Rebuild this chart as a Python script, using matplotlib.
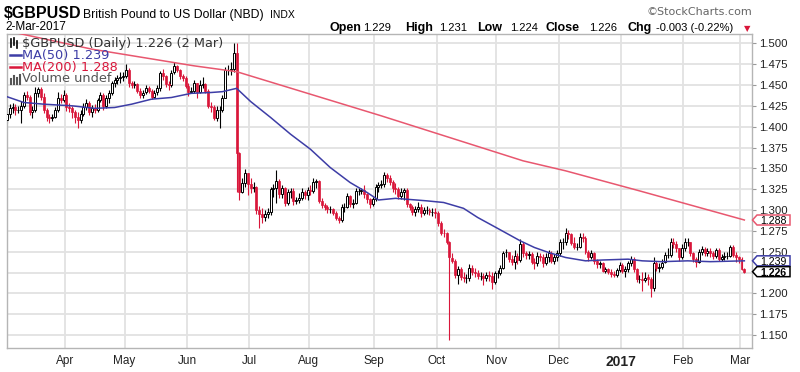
import numpy as np
import pandas as pd
import matplotlib
matplotlib.use('Agg')
import matplotlib.pyplot as plt
from matplotlib.patches import Polygon

# trading days shown on the chart
dates = pd.bdate_range('2016-03-03', '2017-03-02')

first_open = 1.408
closes = [
    1.415, 1.422,                          # Mar 3-4
    1.424, 1.420, 1.420, 1.425, 1.438,     # Mar 7-11
    1.436, 1.418, 1.420, 1.440, 1.445,     # Mar 14-18
    1.436, 1.420, 1.412, 1.410, 1.412,     # Mar 21-25
    1.420, 1.435, 1.432, 1.438, 1.424,     # Mar 28-Apr 1
    1.422, 1.418, 1.412, 1.408, 1.415,     # Apr 4-8
    1.424, 1.428, 1.418, 1.422, 1.420,     # Apr 11-15
    1.432, 1.438, 1.425, 1.434, 1.440,     # Apr 18-22
    1.452, 1.456, 1.458, 1.460, 1.461,     # Apr 25-29
    1.468, 1.452, 1.450, 1.451, 1.443,     # May 2-6
    1.438, 1.441, 1.446, 1.443, 1.436,     # May 9-13
    1.441, 1.446, 1.464, 1.461, 1.451,     # May 16-20
    1.450, 1.465, 1.473, 1.468, 1.461,     # May 23-27
    1.458, 1.449, 1.442, 1.443, 1.452,     # May 30-Jun 3
    1.441, 1.450, 1.451, 1.443, 1.425,     # Jun 6-10
    1.424, 1.411, 1.420, 1.420, 1.435,     # Jun 13-17
    1.468, 1.468, 1.469, 1.488, 1.368,     # Jun 20-24
    1.322, 1.333, 1.344, 1.331, 1.326,     # Jun 27-Jul 1
    1.328, 1.300, 1.295, 1.292, 1.295,     # Jul 4-8
    1.298, 1.325, 1.327, 1.335, 1.319,     # Jul 11-15
    1.326, 1.309, 1.322, 1.323, 1.311,     # Jul 18-22
    1.312, 1.315, 1.322, 1.318, 1.324,     # Jul 25-29
    1.323, 1.334, 1.335, 1.311, 1.306,     # Aug 1-5
    1.304, 1.301, 1.301, 1.297, 1.291,     # Aug 8-12
    1.288, 1.304, 1.304, 1.317, 1.307,     # Aug 15-19
    1.309, 1.323, 1.323, 1.324, 1.319,     # Aug 22-26
    1.313, 1.307, 1.313, 1.328, 1.330,     # Aug 29-Sep 2
    1.331, 1.342, 1.339, 1.334, 1.327,     # Sep 5-9
    1.325, 1.317, 1.322, 1.324, 1.307,     # Sep 12-16
    1.304, 1.298, 1.301, 1.304, 1.296,     # Sep 19-23
    1.300, 1.300, 1.298, 1.298, 1.297,     # Sep 26-30
    1.284, 1.273, 1.272, 1.262, 1.243,     # Oct 3-7
    1.239, 1.222, 1.229, 1.220, 1.218,     # Oct 10-14
    1.219, 1.231, 1.226, 1.224, 1.221,     # Oct 17-21
    1.221, 1.219, 1.222, 1.221, 1.214,     # Oct 24-28
    1.224, 1.225, 1.231, 1.249, 1.249,     # Oct 31-Nov 4
    1.241, 1.238, 1.245, 1.240, 1.259,     # Nov 7-11
    1.248, 1.246, 1.247, 1.238, 1.236,     # Nov 14-18
    1.245, 1.243, 1.236, 1.244, 1.248,     # Nov 21-25
    1.239, 1.244, 1.248, 1.262, 1.262,     # Nov 28-Dec 2
    1.273, 1.271, 1.261, 1.256, 1.256,     # Dec 5-9
    1.268, 1.266, 1.250, 1.244, 1.248,     # Dec 12-16
    1.239, 1.235, 1.236, 1.227, 1.229,     # Dec 19-23
    1.226, 1.223, 1.222, 1.228, 1.234,     # Dec 26-30
    1.227, 1.229, 1.236, 1.241, 1.229,     # Jan 2-6
    1.217, 1.217, 1.216, 1.219, 1.217,     # Jan 9-13
    1.206, 1.237, 1.231, 1.232, 1.237,     # Jan 16-20
    1.246, 1.246, 1.262, 1.259, 1.254,     # Jan 23-27
    1.243, 1.255, 1.262, 1.262, 1.248,     # Jan 30-Feb 3
    1.241, 1.237, 1.249, 1.253, 1.248,     # Feb 6-10
    1.251, 1.248, 1.245, 1.252, 1.241,     # Feb 13-17
    1.243, 1.245, 1.245, 1.256, 1.246,     # Feb 20-24
    1.243, 1.241, 1.229, 1.226,            # Feb 27-Mar 2
]

highs = [
    1.419, 1.427,
    1.428, 1.427, 1.425, 1.431, 1.442,
    1.443, 1.438, 1.425, 1.447, 1.448,
    1.447, 1.440, 1.423, 1.415, 1.415,
    1.424, 1.441, 1.439, 1.444, 1.440,
    1.428, 1.425, 1.420, 1.418, 1.420,
    1.428, 1.433, 1.431, 1.426, 1.427,
    1.435, 1.441, 1.440, 1.438, 1.444,
    1.455, 1.460, 1.462, 1.465, 1.466,
    1.475, 1.470, 1.455, 1.455, 1.452,
    1.446, 1.444, 1.450, 1.449, 1.445,
    1.444, 1.450, 1.467, 1.469, 1.462,
    1.455, 1.468, 1.477, 1.474, 1.469,
    1.463, 1.461, 1.452, 1.448, 1.456,
    1.452, 1.456, 1.459, 1.452, 1.445,
    1.430, 1.426, 1.425, 1.425, 1.438,
    1.472, 1.474, 1.478, 1.501, 1.501,
    1.370, 1.338, 1.349, 1.345, 1.338,
    1.334, 1.329, 1.305, 1.302, 1.300,
    1.303, 1.328, 1.331, 1.348, 1.337,
    1.330, 1.328, 1.325, 1.327, 1.326,
    1.316, 1.320, 1.326, 1.324, 1.328,
    1.330, 1.338, 1.337, 1.336, 1.314,
    1.309, 1.306, 1.305, 1.303, 1.299,
    1.293, 1.307, 1.308, 1.320, 1.318,
    1.313, 1.326, 1.327, 1.327, 1.330,
    1.320, 1.315, 1.316, 1.331, 1.334,
    1.336, 1.346, 1.345, 1.342, 1.336,
    1.332, 1.328, 1.326, 1.327, 1.326,
    1.309, 1.306, 1.305, 1.310, 1.307,
    1.304, 1.305, 1.303, 1.302, 1.302,
    1.299, 1.287, 1.277, 1.274, 1.263,
    1.248, 1.241, 1.233, 1.232, 1.226,
    1.223, 1.235, 1.234, 1.231, 1.228,
    1.226, 1.224, 1.226, 1.227, 1.225,
    1.227, 1.228, 1.234, 1.251, 1.253,
    1.249, 1.246, 1.252, 1.248, 1.265,
    1.262, 1.251, 1.251, 1.249, 1.242,
    1.249, 1.248, 1.247, 1.248, 1.252,
    1.251, 1.247, 1.252, 1.265, 1.266,
    1.278, 1.276, 1.273, 1.268, 1.260,
    1.272, 1.273, 1.269, 1.252, 1.252,
    1.249, 1.241, 1.239, 1.238, 1.232,
    1.231, 1.229, 1.227, 1.231, 1.237,
    1.236, 1.233, 1.239, 1.245, 1.243,
    1.230, 1.222, 1.225, 1.226, 1.223,
    1.219, 1.243, 1.239, 1.236, 1.241,
    1.249, 1.255, 1.266, 1.267, 1.263,
    1.255, 1.259, 1.266, 1.267, 1.262,
    1.250, 1.244, 1.253, 1.257, 1.256,
    1.254, 1.254, 1.251, 1.254, 1.254,
    1.247, 1.250, 1.249, 1.258, 1.258,
    1.249, 1.245, 1.243, 1.231,
]

lows = [
    1.405, 1.411,
    1.416, 1.414, 1.416, 1.405, 1.423,
    1.432, 1.414, 1.410, 1.418, 1.436,
    1.432, 1.417, 1.407, 1.405, 1.407,
    1.410, 1.418, 1.428, 1.430, 1.419,
    1.418, 1.410, 1.405, 1.399, 1.404,
    1.413, 1.420, 1.414, 1.412, 1.416,
    1.418, 1.430, 1.420, 1.422, 1.429,
    1.438, 1.448, 1.451, 1.452, 1.455,
    1.458, 1.448, 1.446, 1.446, 1.440,
    1.434, 1.435, 1.439, 1.440, 1.433,
    1.434, 1.438, 1.443, 1.456, 1.448,
    1.444, 1.447, 1.463, 1.465, 1.457,
    1.455, 1.446, 1.437, 1.440, 1.440,
    1.435, 1.440, 1.446, 1.440, 1.422,
    1.418, 1.408, 1.407, 1.399, 1.418,
    1.436, 1.462, 1.462, 1.466, 1.322,
    1.312, 1.320, 1.328, 1.318, 1.321,
    1.322, 1.295, 1.279, 1.285, 1.287,
    1.291, 1.294, 1.316, 1.308, 1.315,
    1.315, 1.305, 1.306, 1.315, 1.306,
    1.307, 1.309, 1.312, 1.313, 1.312,
    1.318, 1.320, 1.326, 1.308, 1.302,
    1.300, 1.296, 1.297, 1.294, 1.288,
    1.284, 1.286, 1.298, 1.302, 1.304,
    1.303, 1.307, 1.318, 1.319, 1.314,
    1.309, 1.303, 1.305, 1.311, 1.322,
    1.326, 1.328, 1.334, 1.330, 1.322,
    1.319, 1.313, 1.313, 1.312, 1.304,
    1.300, 1.294, 1.293, 1.298, 1.292,
    1.294, 1.295, 1.294, 1.293, 1.291,
    1.281, 1.270, 1.268, 1.259, 1.144,
    1.236, 1.218, 1.211, 1.216, 1.213,
    1.212, 1.215, 1.222, 1.220, 1.217,
    1.216, 1.210, 1.215, 1.215, 1.205,
    1.211, 1.218, 1.222, 1.229, 1.243,
    1.237, 1.234, 1.229, 1.235, 1.238,
    1.244, 1.241, 1.241, 1.235, 1.229,
    1.233, 1.239, 1.232, 1.234, 1.238,
    1.236, 1.235, 1.239, 1.245, 1.253,
    1.258, 1.265, 1.258, 1.253, 1.252,
    1.254, 1.262, 1.247, 1.239, 1.241,
    1.235, 1.231, 1.231, 1.225, 1.224,
    1.223, 1.220, 1.219, 1.220, 1.225,
    1.224, 1.220, 1.226, 1.233, 1.226,
    1.213, 1.212, 1.203, 1.213, 1.210,
    1.195, 1.203, 1.227, 1.226, 1.229,
    1.236, 1.242, 1.244, 1.254, 1.250,
    1.239, 1.241, 1.251, 1.257, 1.245,
    1.238, 1.232, 1.236, 1.246, 1.245,
    1.245, 1.243, 1.241, 1.242, 1.239,
    1.239, 1.240, 1.241, 1.243, 1.244,
    1.238, 1.236, 1.228, 1.224,
]

# moving averages
ma50_dates = ['2016-03-03', '2016-03-11', '2016-03-22', '2016-04-05', '2016-04-15',
              '2016-04-26', '2016-05-04', '2016-05-13', '2016-05-24', '2016-06-02',
              '2016-06-13', '2016-06-17', '2016-06-24', '2016-07-01', '2016-07-12',
              '2016-07-21', '2016-08-01', '2016-08-10', '2016-08-19', '2016-08-29',
              '2016-09-02', '2016-09-12', '2016-09-27', '2016-10-05', '2016-10-14',
              '2016-10-21', '2016-11-01', '2016-11-11', '2016-11-18', '2016-11-25',
              '2016-12-05', '2016-12-14', '2016-12-22', '2017-01-04', '2017-01-11',
              '2017-01-20', '2017-02-02', '2017-02-14', '2017-03-02']
ma50_values = [1.436, 1.429, 1.427, 1.425, 1.422,
               1.423, 1.427, 1.433, 1.435, 1.440,
               1.441, 1.442, 1.446, 1.430, 1.411,
               1.391, 1.373, 1.351, 1.333, 1.321,
               1.312, 1.314, 1.311, 1.309, 1.302,
               1.291, 1.278, 1.263, 1.255, 1.249,
               1.243, 1.239, 1.240, 1.241, 1.239,
               1.238, 1.239, 1.238, 1.239]

ma200_dates = ['2016-03-03', '2016-04-14', '2016-06-03', '2016-06-24', '2016-09-05',
               '2016-11-14', '2016-12-05', '2017-01-10', '2017-03-02']
ma200_values = [1.515, 1.493, 1.473, 1.466, 1.413, 1.359, 1.347, 1.323, 1.288]

month_names = ['Apr', 'May', 'Jun', 'Jul', 'Aug', 'Sep', 'Oct', 'Nov', 'Dec', '2017', 'Feb', 'Mar']
price_ticks = np.arange(1.150, 1.5001, 0.025)

last_open, last_high, last_low, last_close = 1.229, 1.231, 1.224, 1.226
last_ma50, last_ma200 = 1.239, 1.288

RED = '#d9163a'
BLUE = '#3d3da6'
PINK = '#e8576f'
GRID = '#e2e2e2'

o = np.array([first_open] + closes[:-1])  # FX bars open at the previous close
c = np.array(closes)
h = np.array(highs)
l = np.array(lows)
x = np.arange(len(dates))
up = c >= o

fig = plt.figure(figsize=(8, 3.72), dpi=100)
ax = fig.add_axes([7 / 800, 24 / 372, 745 / 800, 314 / 372])

# candles
ax.vlines(x[up], l[up], h[up], color='black', lw=0.8, zorder=2)
ax.vlines(x[~up], l[~up], h[~up], color=RED, lw=0.8, zorder=2)
ax.bar(x[up], c[up] - o[up], bottom=o[up], width=0.7,
       facecolor='white', edgecolor='black', linewidth=0.7, zorder=3)
ax.bar(x[~up], o[~up] - c[~up], bottom=c[~up], width=0.7,
       color=RED, edgecolor=RED, linewidth=0.5, zorder=3)

# moving averages
ax.plot(dates.get_indexer(pd.to_datetime(ma200_dates)), ma200_values, color=PINK, lw=1.1, zorder=4)
ax.plot(dates.get_indexer(pd.to_datetime(ma50_dates)), ma50_values, color=BLUE, lw=1.1, zorder=4)

# month gridlines sit between the last and first day of the month
month_pos = [i - 0.5 for i in range(1, len(dates)) if dates[i].month != dates[i - 1].month]

ax.set_xlim(0.05, 262.7)
ax.set_ylim(1.1344, 1.5112)
ax.set_yticks(price_ticks)
# the 1.225 label sits under the closing-price tag
ax.set_yticklabels(['' if abs(v - 1.225) < 1e-6 else '%.3f' % v for v in price_ticks])
ax.set_xticks(month_pos)
ax.set_xticklabels(month_names)
ax.yaxis.tick_right()
ax.grid(True, color=GRID, lw=1.3)
ax.set_axisbelow(True)
ax.tick_params(axis='y', length=3, color='#999999', pad=2, labelsize=8.2)
ax.tick_params(axis='x', length=0, pad=5, labelsize=8.5)
for lab in ax.get_yticklabels() + ax.get_xticklabels():
    lab.set_family('Liberation Sans')
    lab.set_color('#222222')
for lab in ax.get_xticklabels():
    if lab.get_text() == '2017':
        lab.set_fontweight('bold')
        lab.set_fontsize(10)
for s in ax.spines.values():
    s.set_color('#b5b5b5')
    s.set_linewidth(1)

# value tags on the right edge
ytr = ax.get_yaxis_transform()
pxw, pxh = 1 / 745, (1.5112 - 1.1344) / 314
for val, edge, weight in [(last_ma200, PINK, 'normal'), (last_ma50, BLUE, 'normal'),
                          (last_close, 'black', 'bold')]:
    poly = Polygon([(1 + 0.5 * pxw, val), (1 + 5 * pxw, val + 5 * pxh),
                    (1 + 38 * pxw, val + 5 * pxh), (1 + 38 * pxw, val - 5 * pxh),
                    (1 + 5 * pxw, val - 5 * pxh)], closed=True,
                   transform=ytr, clip_on=False, facecolor='white',
                   edgecolor=edge, lw=1.1, zorder=10)
    ax.add_patch(poly)
    ax.text(1 + 21.5 * pxw, val - 1.2 * pxh, '%.3f' % val, transform=ytr,
            ha='center', va='center', fontsize=7.6, family='Liberation Sans',
            fontweight=weight, color='black', zorder=11, clip_on=False)


def fx(px):
    return px / 800


def fy(py):
    return 1 - py / 372


# header
fig.text(fx(4), fy(18), '$GBPUSD', fontsize=11.5, fontweight='bold', family='Liberation Sans')
fig.text(fx(83), fy(18), 'British Pound to US Dollar (NBD)', fontsize=8.8, family='Liberation Sans')
fig.text(fx(270), fy(18), 'INDX', fontsize=7.5, family='Liberation Sans')
fig.text(fx(5), fy(30), '2-Mar-2017', fontsize=8.5, family='Liberation Sans')
fig.text(fx(752), fy(15), '\u00a9StockCharts.com', fontsize=8, color='#666666',
         family='DejaVu Sans', ha='right')

hdr = [(330, 'Open', True), (363, '%.3f' % last_open, False),
       (405, 'High', True), (439, '%.3f' % last_high, False),
       (477, 'Low', True), (510, '%.3f' % last_low, False),
       (545, 'Close', True), (589, '%.3f' % last_close, False),
       (627, 'Chg', True), (656, '-0.003 (-0.22%)', False)]
for px_, txt, bold in hdr:
    fig.text(fx(px_), fy(31), txt, fontsize=9 if bold else 8,
             fontweight='bold' if bold else 'normal', family='Liberation Sans')
fig.text(fx(744), fy(31), '\u25bc', fontsize=6, color=RED, family='DejaVu Sans')

# in-chart legend
legend_rows = [(43, '$GBPUSD (Daily) %.3f (2 Mar)' % last_close, '#333333'),
               (55, 'MA(50) %.3f' % last_ma50, BLUE),
               (67, 'MA(200) %.3f' % last_ma200, RED),
               (79, 'Volume undef', '#555555')]
for py, txt, col in legend_rows:
    fig.text(fx(22), fy(py), txt, fontsize=9.3, color=col, family='DejaVu Sans', va='center')
fig.add_artist(plt.Line2D([fx(10), fx(21)], [fy(55), fy(55)], color=BLUE, lw=1.8))
fig.add_artist(plt.Line2D([fx(10), fx(21)], [fy(67), fy(67)], color=RED, lw=1.8))
# small candle icon and volume icon
for dx, y0, y1 in [(11, 39, 47), (14, 38, 45), (17, 41, 48)]:
    fig.add_artist(plt.Line2D([fx(dx), fx(dx)], [fy(y0), fy(y1)], color='black', lw=1.2))
for dx, y0 in [(11, 79), (14, 76), (17, 78), (20, 75)]:
    fig.add_artist(plt.Line2D([fx(dx), fx(dx)], [fy(y0), fy(84)], color='#555555', lw=1.5))

fig.savefig('out.png', dpi=100)
